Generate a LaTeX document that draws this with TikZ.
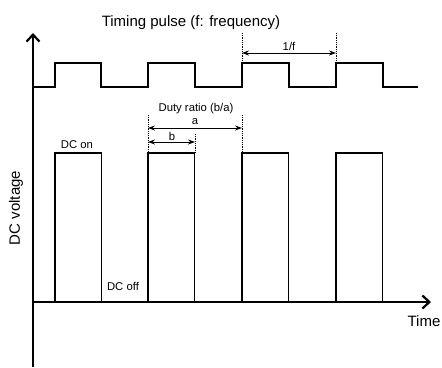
\documentclass[tikz,border=0pt]{standalone}
\usepackage{fontspec}
\setmainfont{Liberation Sans}
\usetikzlibrary{arrows.meta}
\begin{document}
\begin{tikzpicture}[x=1pt,y=-1pt,
  axis/.style={line width=2.8pt,-{Straight Barb[length=7pt,width=13pt,line width=2.2pt]}},
  wave/.style={line width=2.1pt},
  pulse/.style={line width=1.9pt},
  guide/.style={densely dotted,line width=0.8pt},
  dim/.style={line width=0.9pt,{Stealth[length=7pt,width=5pt]}-{Stealth[length=7pt,width=5pt]}},
  big/.style={font=\fontsize{15}{17}\selectfont,inner sep=0pt},
  small/.style={font=\fontsize{11.3}{13}\selectfont,inner sep=0pt}]
\useasboundingbox (0,0) rectangle (442,367);
% axes
\coordinate (o) at (33,302);
\coordinate (ybot) at (33,367);
\coordinate (ytop) at (33,33);
\coordinate (xend) at (431,302);
% timing pulse
\draw[wave] (33,87) -- (55,87) -- (55,63) -- (101,63) -- (101,87) -- (148,87) -- (148,63) -- (195,63) -- (195,87)
  -- (242,87) -- (242,63) -- (289,63) -- (289,87) -- (336,87) -- (336,63) -- (383,63) -- (383,87) -- (418,87);
% DC pulses
\foreach \x in {55,148,242,336}{
  \draw[pulse] (\x,302) -- (\x,153) -- (\x+46.5,153) -- (\x+46.5,302);
}
\draw[axis] (ybot) -- (ytop);
\draw[axis] (o) -- (xend);
% frequency guides
\coordinate (f1t) at (242,33); \coordinate (f1b) at (242,63);
\coordinate (f2t) at (336,33); \coordinate (f2b) at (336,63);
\draw[guide] (f1t) -- (f1b);
\draw[guide] (f2t) -- (f2b);
\coordinate (f1) at (242,53); \coordinate (f2) at (336,53);
\draw[dim] (f1) -- (f2);
\node[small] (lf) at (289,46) {1/f};
% duty ratio guides
\coordinate (d1t) at (148,115); \coordinate (d1b) at (148,153);
\coordinate (d2t) at (242,115); \coordinate (d2b) at (242,153);
\coordinate (d3t) at (195,134); \coordinate (d3b) at (195,153);
\draw[guide] (d1t) -- (d1b);
\draw[guide] (d2t) -- (d2b);
\draw[guide] (d3t) -- (d3b);
\coordinate (a1) at (148,128); \coordinate (a2) at (242,128);
\draw[dim] (a1) -- (a2);
\coordinate (b1) at (148,142); \coordinate (b2) at (195,142);
\draw[dim] (b1) -- (b2);
\node[small] (la) at (195,121.5) {a};
\node[small] (lb) at (172,136.5) {b};
\node[small] (duty) at (196,109) {Duty ratio (b/a)};
% labels
\node[big] (title) at (191,23) {Timing pulse (f: frequency)};
\node[big,rotate=90] (yl) at (16,208) {DC voltage};
\node[big] (time) at (424,321) {Time};
\node[small] (on) at (77,145) {DC on};
\node[small] (off) at (123,286) {DC off};
\end{tikzpicture}
\end{document}
